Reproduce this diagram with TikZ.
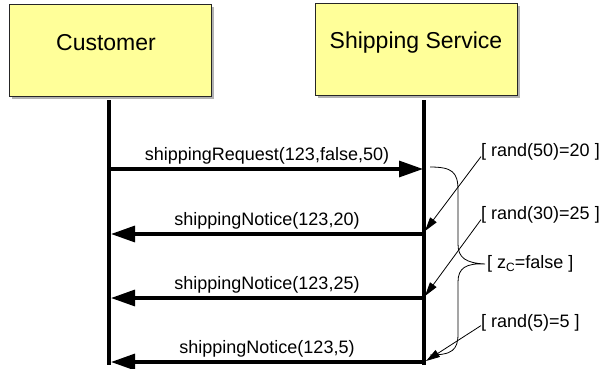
\documentclass[tikz,border=0pt]{standalone}
\usepackage{fontspec}
\setmainfont{Liberation Sans}
\usetikzlibrary{arrows.meta,shadows}
\definecolor{actorfill}{RGB}{255,255,153}
\begin{document}
\begin{tikzpicture}[x=1pt,y=-1pt,
  actor/.style={draw=black!85, line width=0.9pt, fill=actorfill,
    minimum width=202pt, minimum height=92pt, inner sep=0pt, anchor=north west,
    drop shadow={shadow xshift=3pt, shadow yshift=-3pt, fill=black!30, opacity=1}},
  actortitle/.style={inner sep=0pt, font=\fontsize{23}{27}\selectfont},
  lifeline/.style={line width=3.2pt},
  msg/.style={line width=3.2pt, -{Triangle[length=24pt,width=16pt]}},
  msglabel/.style={font=\fontsize{18}{21}\selectfont, inner sep=0pt, above=3pt},
  note/.style={font=\fontsize{18}{21}\selectfont, inner sep=0pt, anchor=west},
  noteline/.style={line width=0.8pt, -{Triangle[length=14pt,width=8pt]}},
  brace/.style={line width=0.8pt}]
  \useasboundingbox (0,0) rectangle (610,369);

  % participants
  \node[actor] (cust) at (9,4) {};
  \node[actor] (ship) at (315,3) {};
  \node[actortitle] (custname) at (106,43) {Customer};
  \node[actortitle] (shipname) at (416,43) {Shipping Service};

  % lifelines
  \coordinate (custtop) at (109,100);
  \coordinate (custbot) at (109,365);
  \coordinate (shiptop) at (424,100);
  \coordinate (shipbot) at (424,365);
  \draw[lifeline] (custtop) -- (custbot);
  \draw[lifeline] (shiptop) -- (shipbot);

  % message end points on the lifelines
  \coordinate (m1a) at (111,169);  \coordinate (m1b) at (423,169);
  \coordinate (m2a) at (423,234);  \coordinate (m2b) at (111,234);
  \coordinate (m3a) at (423,298);  \coordinate (m3b) at (111,298);
  \coordinate (m4a) at (423,362);  \coordinate (m4b) at (111,362);

  % messages
  \draw[msg] (m1a) -- node[msglabel] (l1) {shippingRequest(123,false,50)} (m1b);
  \draw[msg] (m2a) -- node[msglabel] (l2) {shippingNotice(123,20)} (m2b);
  \draw[msg] (m3a) -- node[msglabel] (l3) {shippingNotice(123,25)} (m3b);
  \draw[msg] (m4a) -- node[msglabel] (l4) {shippingNotice(123,5)} (m4b);

  % guard annotations
  \node[note] (g1) at (481,152) {[ rand(50)=20 ]};
  \node[note] (g2) at (481,215) {[ rand(30)=25 ]};
  \node[note] (g3) at (487,264) {[ z\raisebox{-0.3ex}{\fontsize{12}{12}\selectfont C}=false ]};
  \node[note] (g4) at (481,323) {[ rand(5)=5 ]};

  \coordinate (t1) at (425,231);
  \coordinate (t2) at (425,296);
  \coordinate (t3) at (426,361);
  \draw[noteline] (g1.south west) ++(0,-4) -- (t1);
  \draw[noteline] (g2.south west) ++(0,-4) -- (t2);
  \draw[noteline] (g4.south west) ++(0,-6) -- (t3);

  % brace grouping the exchange
  \coordinate (btop) at (430,167);
  \coordinate (bbot) at (430,355);
  \coordinate (btip) at (g3.west);
  \draw[brace] (btop) .. controls (452,167) and (458,172) .. (458,190)
    -- (458,244) .. controls (458,258) and (466,263) .. ([xshift=-2pt]btip)
    .. controls (466,263) and (458,268) .. (458,282)
    -- (458,334) .. controls (458,350) and (452,355) .. (bbot);
\end{tikzpicture}
\end{document}
